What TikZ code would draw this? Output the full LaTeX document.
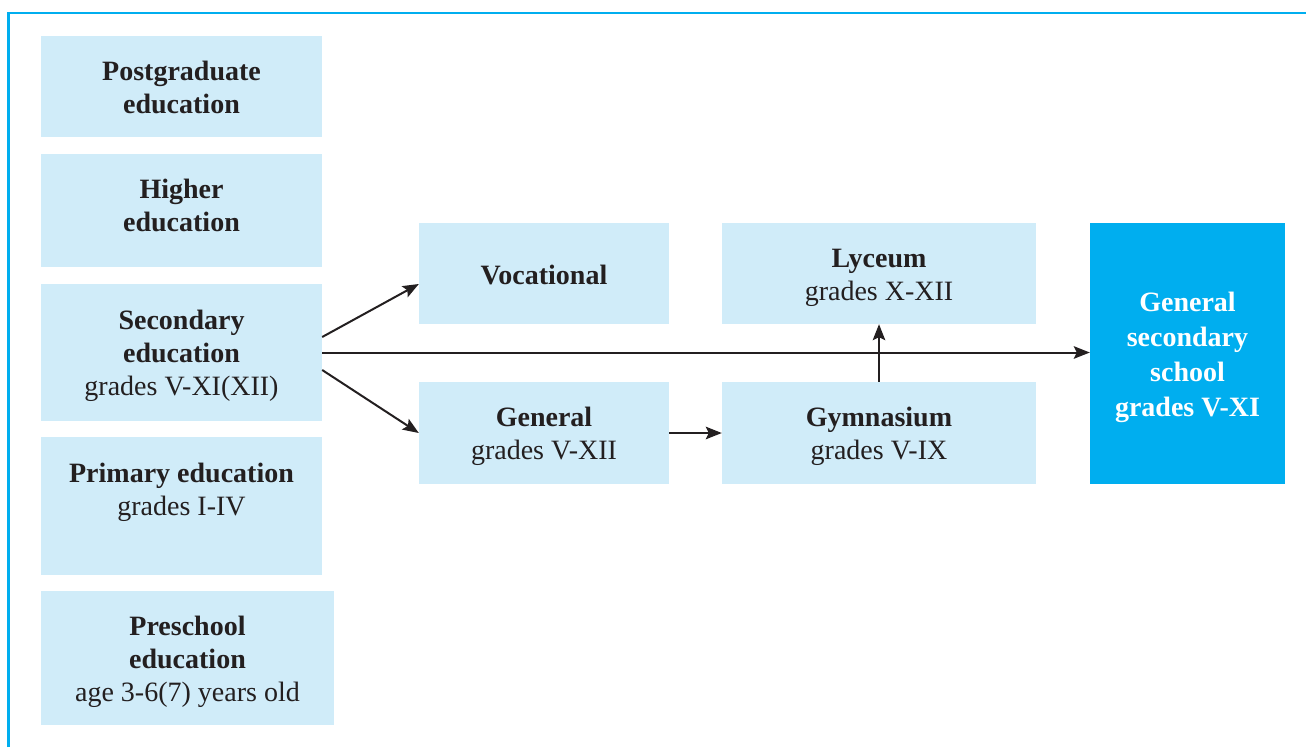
\documentclass[tikz,border=0pt]{standalone}
\usepackage{fontspec}
\setmainfont{Liberation Serif}
\usetikzlibrary{arrows.meta}
\definecolor{lightbox}{HTML}{D0ECF9}
\definecolor{darkbox}{HTML}{00AEEF}
\definecolor{ink}{HTML}{231F20}
\newcommand\tsx{\rule{0pt}{27pt}}
\newcommand\bsx{\rule[-6pt]{0pt}{6pt}}
\tikzset{
  box/.style={fill=lightbox, draw=none, inner sep=0pt, align=center, text=ink,
    font=\fontsize{28}{33}\selectfont},
  darkstyle/.style={fill=darkbox, draw=none, inner sep=0pt, align=center, text=white,
    font=\fontsize{28}{35}\selectfont\bfseries},
  conn/.style={draw=ink, line width=2pt, -{Stealth[length=16pt,width=12.5pt,inset=3pt]}},
  frame/.style={draw=darkbox, line width=2.5pt}
}
\begin{document}
\begin{tikzpicture}[x=1pt,y=1pt]
\useasboundingbox (0,0) rectangle (1306,-747);
\draw[frame] (8.5,-747) -- (8.5,-13) -- (1306,-13);

\node[box, minimum width=281pt, minimum height=101pt] (post) at (181.5,-86.5)
  {\tsx\textbf{Postgraduate}\\\textbf{education}\bsx};
\node[box, minimum width=281pt, minimum height=113pt] (higher) at (181.5,-210.5)
  {\rule{0pt}{23pt}\textbf{Higher}\\\textbf{education}\rule[-14pt]{0pt}{14pt}};
\node[box, minimum width=281pt, minimum height=137pt] (sec) at (181.5,-352.5)
  {\tsx\textbf{Secondary}\\\textbf{education}\\grades V-XI(XII)\bsx};
\node[box, minimum width=281pt, minimum height=138pt] (prim) at (181.5,-506)
  {\textbf{Primary education}\\grades I-IV\\\mbox{}};
\node[box, minimum width=293pt, minimum height=134pt] (pre) at (187.5,-658)
  {\tsx\textbf{Preschool}\\\textbf{education}\\age 3-6(7) years old\bsx};

\node[box, minimum width=250pt, minimum height=101pt] (voc) at (544,-273.5)
  {\tsx\textbf{Vocational}\bsx};
\node[box, minimum width=250pt, minimum height=102pt] (gen) at (544,-433)
  {\tsx\textbf{General}\\grades V-XII\bsx};
\node[box, minimum width=314pt, minimum height=101pt] (lyc) at (879,-273.5)
  {\tsx\textbf{Lyceum}\\grades X-XII\bsx};
\node[box, minimum width=314pt, minimum height=102pt] (gym) at (879,-433)
  {\tsx\textbf{Gymnasium}\\grades V-IX\bsx};
\node[darkstyle, minimum width=195pt, minimum height=261pt] (gss) at (1187.5,-353.5)
  {\tsx General\\secondary\\school\\grades V-XI\bsx};

\draw[conn] ([yshift=15.5pt]sec.east) -- ([yshift=-10.5pt]voc.west);
\draw[conn] ([yshift=-17.5pt]sec.east) -- (gen.west);
\draw[conn] (sec.east) -- (sec.east -| gss.west);
\draw[conn] (gen.east) -- (gym.west);
\draw[conn] (gym.north) -- (lyc.south);
\end{tikzpicture}
\end{document}
